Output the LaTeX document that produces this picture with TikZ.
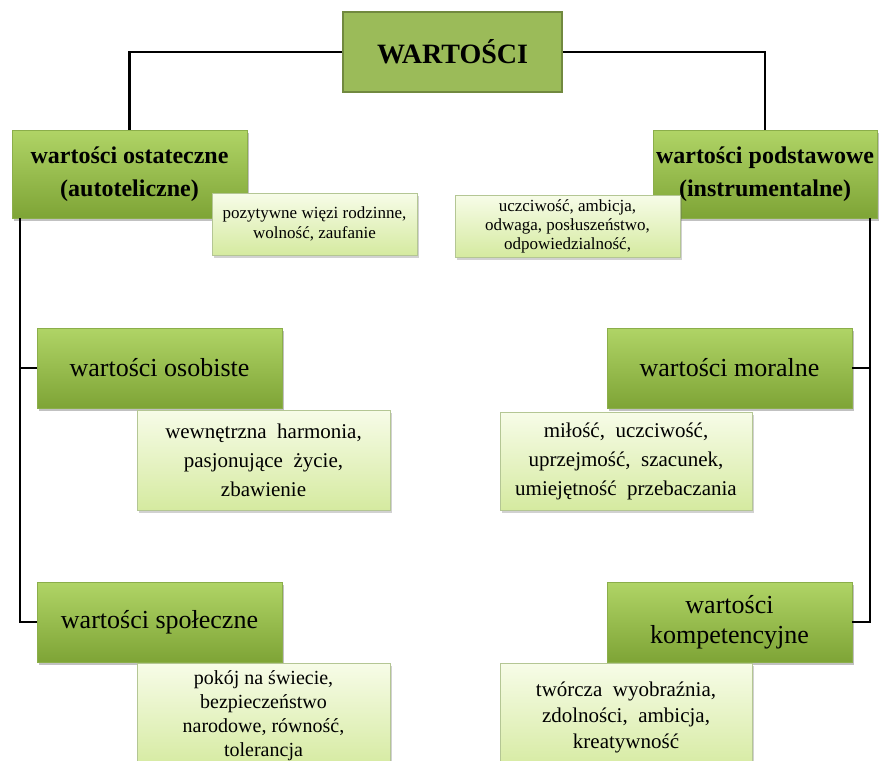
\documentclass[tikz,border=0pt]{standalone}
\usepackage{fontspec}
\setmainfont{Liberation Serif}
\usetikzlibrary{shadows}
\definecolor{titlefill}{HTML}{9BBB59}
\definecolor{titleedge}{HTML}{71893F}
\definecolor{grouptop}{HTML}{B0D466}
\definecolor{groupbottom}{HTML}{7EA436}
\definecolor{groupedge}{HTML}{8BAE4A}
\definecolor{listtop}{HTML}{F7FCE8}
\definecolor{listbottom}{HTML}{D5EAA0}
\definecolor{listedge}{HTML}{B4C694}
\begin{document}
\begin{tikzpicture}[x=1pt,y=-1pt,
	title/.style={draw=titleedge,fill=titlefill,line width=1.5pt,minimum width=219pt,minimum height=80pt,font=\fontsize{28}{30}\selectfont\bfseries},
	group/.style={draw=groupedge,top color=grouptop,bottom color=groupbottom,inner sep=0pt,align=center,minimum width=245pt,minimum height=80pt,
		drop shadow={shadow xshift=2pt,shadow yshift=-3pt,opacity=.35,fill=black!70},font=\fontsize{26}{30}\selectfont},
	kind/.style={group,minimum height=88pt,font=\fontsize{24}{33}\selectfont\bfseries},
	list/.style={draw=listedge,top color=listtop,bottom color=listbottom,inner sep=0pt,align=center,
		drop shadow={shadow xshift=2pt,shadow yshift=-3pt,opacity=.3,fill=black!60},font=\fontsize{21}{29}\selectfont},
	smalllist/.style={list,font=\fontsize{17}{20}\selectfont,minimum height=62pt},
	bus/.style={line width=2.5pt,black}]
	\useasboundingbox (0,0) rectangle (880,760);
	\clip (0,0) rectangle (880,760);
	\node[title] (wart) at (452.5,52) {WARTOŚCI};
	\node[kind,minimum width=235pt] (ost) at (129.5,174) {wartości ostateczne\\(autoteliczne)};
	\node[kind,minimum width=224pt] (podst) at (765,174) {wartości podstawowe\\(instrumentalne)};
	\node[smalllist,minimum width=205pt] (ostlist) at (314.5,224) {pozytywne więzi rodzinne,\\wolność, zaufanie};
	\node[smalllist,minimum width=225pt,font=\fontsize{17}{19}\selectfont] (podstlist) at (567.5,226) {uczciwość, ambicja,\\odwaga, posłuszeństwo,\\odpowiedzialność,};
	\node[group] (osob) at (159.5,368) {wartości osobiste};
	\node[list,minimum width=253pt,minimum height=100pt] (osoblist) at (263.5,460) {wewnętrzna\ \ harmonia,\\pasjonujące\ \ życie,\\zbawienie};
	\node[group] (moral) at (729.5,368) {wartości moralne};
	\node[list,minimum width=252pt,minimum height=98pt] (morallist) at (626,461) {miłość,\ \ uczciwość,\\uprzejmość,\ \ szacunek,\\umiejętność\ \ przebaczania};
	\node[group] (spol) at (159.5,622) {wartości społeczne};
	\node[list,minimum width=253pt,minimum height=105pt,anchor=north,font=\fontsize{20}{24}\selectfont] (spollist) at (263.5,663) {pokój na świecie,\\bezpieczeństwo\\narodowe, równość,\\tolerancja};
	\node[group] (komp) at (729.5,622) {wartości\\kompetencyjne};
	\node[list,minimum width=252pt,minimum height=108pt,anchor=north,font=\fontsize{21}{26}\selectfont] (komplist) at (626,663) {twórcza\ \ wyobraźnia,\\zdolności,\ \ ambicja,\\kreatywność};
	\coordinate (lbus) at ([xshift=8pt]ost.south west);
	\coordinate (rbus) at ([xshift=-7pt]podst.south east);
	\draw[bus] (wart.west) -| (ost.north);
	\draw[bus] (wart.east) -| (podst.north);
	\draw[bus] (lbus) |- (spol.west);
	\draw[bus] (osob.west) -- (osob.west -| lbus);
	\draw[bus] (rbus) |- (komp.east);
	\draw[bus] (moral.east) -- (moral.east -| rbus);
\end{tikzpicture}
\end{document}
